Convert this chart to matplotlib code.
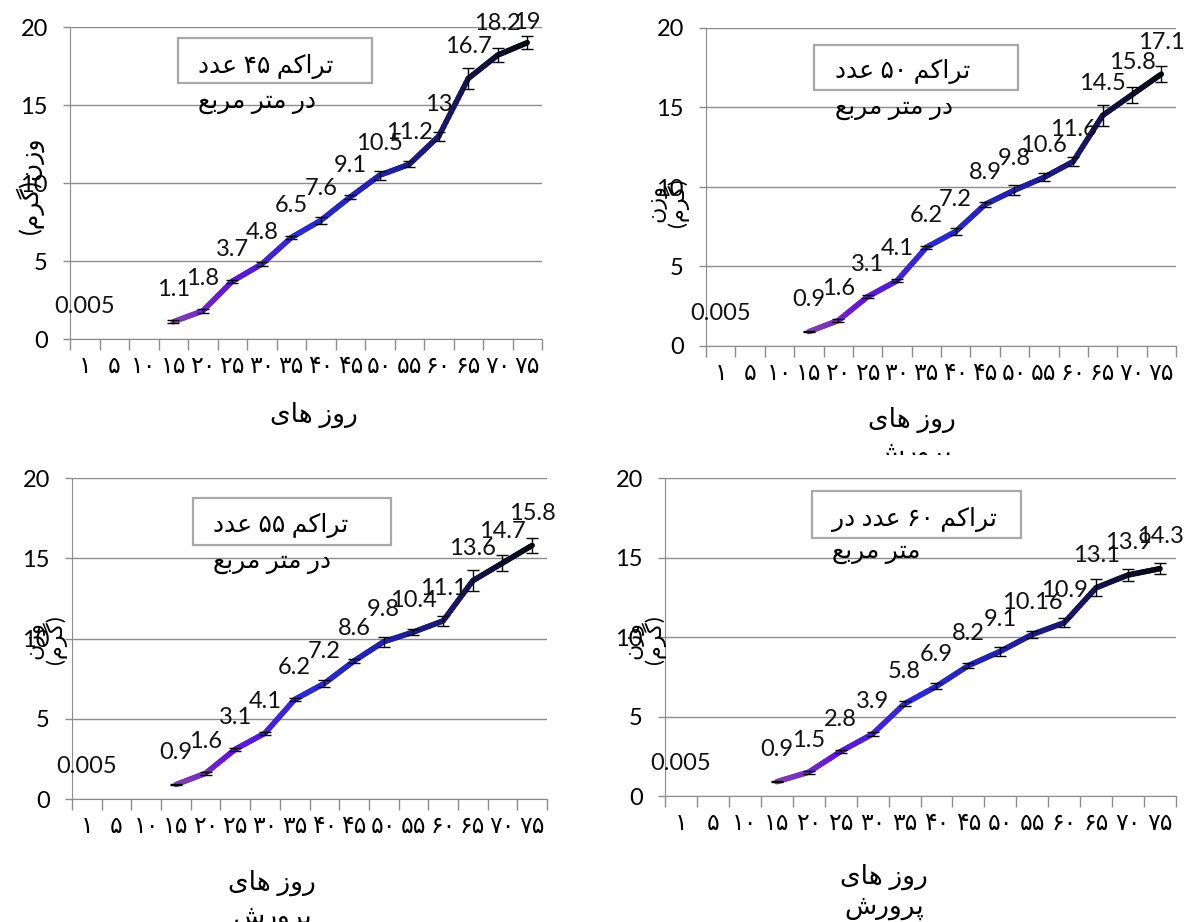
import numpy as np
import matplotlib
matplotlib.use('Agg')
import matplotlib.pyplot as plt
from matplotlib.collections import LineCollection
from matplotlib.colors import LinearSegmentedColormap
from matplotlib.patches import Rectangle
from matplotlib.transforms import Bbox, TransformedBbox

plt.rcParams['font.family'] = ['Lato', 'DejaVu Sans']

# ---- data ----
days = ['۱', '۵', '۱۰', '۱۵', '۲۰', '۲۵', '۳۰', '۳۵',
        '۴۰', '۴۵', '۵۰', '۵۵', '۶۰', '۶۵', '۷۰', '۷۵']
start_weight = 0.005          # day 1 (no values for days 5 and 10)

w45 = [1.1, 1.8, 3.7, 4.8, 6.5, 7.6, 9.1, 10.5, 11.2, 13, 16.7, 18.2, 19]
w50 = [0.9, 1.6, 3.1, 4.1, 6.2, 7.2, 8.9, 9.8, 10.6, 11.6, 14.5, 15.8, 17.1]
w55 = [0.9, 1.6, 3.1, 4.1, 6.2, 7.2, 8.6, 9.8, 10.4, 11.1, 13.6, 14.7, 15.8]
w60 = [0.9, 1.5, 2.8, 3.9, 5.8, 6.9, 8.2, 9.1, 10.16, 10.9, 13.1, 13.9, 14.3]

e45 = [0.1, 0.15, 0.1, 0.15, 0.1, 0.2, 0.15, 0.3, 0.2, 0.3, 0.7, 0.45, 0.4]
e50 = [0.05, 0.1, 0.1, 0.1, 0.1, 0.25, 0.15, 0.3, 0.25, 0.3, 0.65, 0.5, 0.5]
e55 = [0.05, 0.1, 0.1, 0.1, 0.1, 0.2, 0.1, 0.3, 0.2, 0.3, 0.65, 0.5, 0.45]
e60 = [0.05, 0.1, 0.1, 0.1, 0.15, 0.2, 0.15, 0.3, 0.2, 0.3, 0.55, 0.4, 0.35]

titles = ['تراکم ۴۵ عدد', 'تراکم ۵۰ عدد', 'تراکم ۵۵ عدد', 'تراکم ۶۰ عدد در']
subtitles = ['در متر مربع', 'در متر مربع', 'در متر مربع', 'متر مربع']
ylabels = ['وزن(گرم)', 'وزن\n(گرم)', 'وزن\n(گرم)', 'وزن\n(گرم)']
xlabel1 = 'روز های'
xlabel2 = 'پرورش'

# ---- minimal persian shaping (matplotlib has no complex text layout) ----
FORMS = {  # isolated, final, initial, medial
    'ا': ('\uFE8D', '\uFE8E', None, None),
    'ب': ('\uFE8F', '\uFE90', '\uFE91', '\uFE92'),
    'پ': ('\uFB56', '\uFB57', '\uFB58', '\uFB59'),
    'ت': ('\uFE95', '\uFE96', '\uFE97', '\uFE98'),
    'د': ('\uFEA9', '\uFEAA', None, None),
    'ر': ('\uFEAD', '\uFEAE', None, None),
    'ز': ('\uFEAF', '\uFEB0', None, None),
    'ش': ('\uFEB5', '\uFEB6', '\uFEB7', '\uFEB8'),
    'ع': ('\uFEC9', '\uFECA', '\uFECB', '\uFECC'),
    'ک': ('\uFB8E', '\uFB8F', '\uFB90', '\uFB91'),
    'گ': ('\uFB92', '\uFB93', '\uFB94', '\uFB95'),
    'م': ('\uFEE1', '\uFEE2', '\uFEE3', '\uFEE4'),
    'ن': ('\uFEE5', '\uFEE6', '\uFEE7', '\uFEE8'),
    'ه': ('\uFEE9', '\uFEEA', '\uFEEB', '\uFEEC'),
    'و': ('\uFEED', '\uFEEE', None, None),
    'ی': ('\uFBFC', '\uFBFD', '\uFBFE', '\uFBFF'),
}
MIRROR = {'(': ')', ')': '('}


def shape_word(w):
    out = []
    for i, ch in enumerate(w):
        if ch not in FORMS:
            out.append(ch)
            continue
        f = FORMS[ch]
        prev = i > 0 and w[i - 1] in FORMS and FORMS[w[i - 1]][2] is not None
        nxt = f[2] is not None and i + 1 < len(w) and w[i + 1] in FORMS
        if prev and nxt:
            out.append(f[3])
        elif prev:
            out.append(f[1])
        elif nxt:
            out.append(f[2])
        else:
            out.append(f[0])
    return out


def fa(text):
    lines = []
    for line in text.split('\n'):
        words = []
        for w in line.split(' '):
            if any(c in FORMS for c in w):
                w = ''.join(MIRROR.get(c, c) for c in reversed(shape_word(w)))
            words.append(w)
        lines.append(' '.join(reversed(words)))
    return '\n'.join(lines)


# ---- layout (pixels of the 1185x922 picture) ----
W, H = 1185, 922
panels = [
    dict(ax=(70, 542, 27, 339), box=(178, 38, 372, 83), tx=(198, 66, 103),
         yl=(30, 185), xl=(314, 415, None, None)),
    dict(ax=(706, 1176, 28, 346), box=(814, 45, 1018, 90), tx=(835, 72, 108),
         yl=(668, 203), xl=(912, 420, 453, 455)),
    dict(ax=(72, 547, 478, 799), box=(193, 498, 391, 545), tx=(213, 525, 562),
         yl=(46, 640), xl=(272, 883, 917, None)),
    dict(ax=(665, 1176, 478, 796), box=(812, 491, 1021, 538), tx=(832, 520, 553),
         yl=(645, 640), xl=(884, 877, 907, None)),
]


def fx(x):
    return x / W


def fy(y):
    return 1 - y / H


cmap = LinearSegmentedColormap.from_list(
    'growth', [(0.0, '#8244aa'), (0.15, '#6614d6'), (0.35, '#2c2cd4'),
               (0.6, '#2020a8'), (0.8, '#16165a'), (1.0, '#08080f')])

grey = '#8c8c8c'
num_size = 17
fa_size = 18

fig = plt.figure(figsize=(W / 100, H / 100), dpi=100)

series = [w45, w50, w55, w60]
errors = [e45, e50, e55, e60]

for k, p in enumerate(panels):
    l, r, t, b = p['ax']
    ax = fig.add_axes([fx(l), fy(b), (r - l) / W, (b - t) / H])

    x = np.arange(len(days))
    vals = np.r_[start_weight, np.nan, np.nan, series[k]]
    xs = x[3:]
    ys = np.array(series[k], float)

    ax.set_xlim(-0.5, len(days) - 0.5)
    ax.set_ylim(0, 20)

    # gradient line: split every segment into small pieces
    segs, cols = [], []
    n = len(xs) - 1
    for i in range(n):
        tt = np.linspace(0, 1, 13)
        px = xs[i] + (xs[i + 1] - xs[i]) * tt
        py = ys[i] + (ys[i + 1] - ys[i]) * tt
        for j in range(len(tt) - 1):
            segs.append([(px[j], py[j]), (px[j + 1], py[j + 1])])
            cols.append(cmap((i + tt[j]) / n))
    lc = LineCollection(segs, colors=cols, linewidths=4, capstyle='round',
                        joinstyle='round', zorder=3)
    ax.add_collection(lc)

    ax.errorbar(xs, ys, yerr=errors[k], fmt='none', ecolor='black',
                elinewidth=1, capsize=4, capthick=1, zorder=4)

    # data labels above the points, kept inside the chart area
    top_px = H - 22
    for xi, v in zip(x, vals):
        if np.isnan(v):
            continue
        X, Y = ax.transData.transform((xi, v))
        ax.annotate(f'{v:g}', (xi, v), xytext=(X, min(Y + 32, top_px)),
                    textcoords='figure pixels', ha='center', va='center',
                    fontsize=num_size, color='#111111', zorder=5)

    ax.set_yticks([0, 5, 10, 15, 20])
    ax.yaxis.grid(True, color=grey, lw=1)
    ax.set_axisbelow(True)
    ax.set_xticks(np.arange(-0.5, len(days), 1))
    ax.set_xticklabels([])
    ax.set_xticks(x, minor=True)
    ax.set_xticklabels(days, minor=True, fontsize=17, family='DejaVu Sans')
    ax.tick_params(axis='x', which='major', length=8, color=grey, width=1)
    ax.tick_params(axis='x', which='minor', length=0, pad=11)
    ax.tick_params(axis='y', length=5, color=grey, width=1, pad=11,
                   labelsize=num_size)
    for s in ['top', 'right']:
        ax.spines[s].set_visible(False)
    for s in ['left', 'bottom']:
        ax.spines[s].set_color(grey)
    ax.patch.set_alpha(0)

    # text box
    bx0, by0, bx1, by1 = p['box']
    fig.add_artist(Rectangle((fx(bx0), fy(by1)), (bx1 - bx0) / W, (by1 - by0) / H,
                             transform=fig.transFigure, fill=True, fc='white',
                             ec='#a8a8a8', lw=1.6, zorder=1))
    tx, ty1, ty2 = p['tx']
    fig.text(fx(tx), fy(ty1), fa(titles[k]), ha='left', va='center',
             fontsize=fa_size, zorder=2)
    fig.text(fx(tx), fy(ty2), fa(subtitles[k]), ha='left', va='center',
             fontsize=fa_size, zorder=2)

    # axis titles
    yx, yy = p['yl']
    fig.text(fx(yx), fy(yy), fa(ylabels[k]), rotation=90, ha='center', va='center',
             fontsize=18 if k == 0 else 16, linespacing=0.9)
    lx, ly1, ly2, clip = p['xl']
    fig.text(fx(lx), fy(ly1), fa(xlabel1), ha='center', va='center', fontsize=19)
    if ly2 is not None:
        t2 = fig.text(fx(lx), fy(ly2), fa(xlabel2), ha='center', va='center',
                      fontsize=19)
        if clip is not None:
            t2.set_clip_box(TransformedBbox(Bbox([[0, fy(clip)], [1, 1]]),
                                            fig.transFigure))
            t2.set_clip_on(True)

fig.savefig('out.png', dpi=100)
